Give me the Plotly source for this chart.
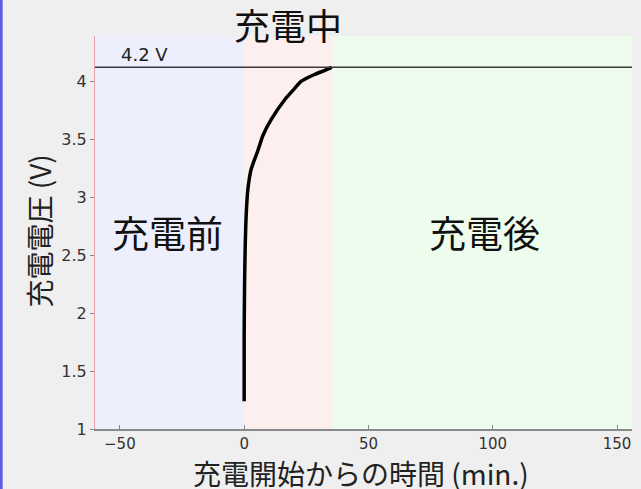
import plotly.graph_objects as go

# Data
time_min = [0, 0, 0.1, 0.2, 0.4, 0.8, 1.5, 2.8, 5.5, 7.5, 10.9, 16.3, 20, 23, 28.5, 32, 35.2]
voltage_v = [1.24, 1.8, 2.1, 2.3, 2.55, 2.84, 3.07, 3.24, 3.40, 3.53, 3.67, 3.84, 3.93, 4.0, 4.06, 4.09, 4.12]

limit_voltage = 4.12
limit_label = "4.2 V"
phase_names = ["充電前", "充電中", "充電後"]
phase_bounds = [-60, 0, 35.6, 156]
phase_colors = ["#edeffd", "#fdefed", "#eefcee"]

x_ticks = [-50, 0, 50, 100, 150]
y_ticks = [1, 1.5, 2, 2.5, 3, 3.5, 4]
y_tick_text = ["1", "1.5", "2", "2.5", "3", "3.5", "4"]

x_title = "充電開始からの時間 (min.)"
y_title = "充電電圧 (V)"

FONT = "Noto Sans CJK JP"
NUMFONT = "DejaVu Sans"

fig = go.Figure()

fig.add_trace(go.Scatter(
    x=time_min, y=voltage_v, mode="lines",
    line=dict(color="black", width=3.5, shape="spline", smoothing=0.6),
    showlegend=False, hoverinfo="skip",
))

shapes = []
for i in range(3):
    shapes.append(dict(type="rect", xref="x", yref="paper",
                       x0=phase_bounds[i], x1=phase_bounds[i + 1], y0=0, y1=1,
                       fillcolor=phase_colors[i], line=dict(width=0), layer="below"))
shapes.append(dict(type="line", xref="paper", yref="y", x0=0, x1=1,
                   y0=limit_voltage, y1=limit_voltage,
                   line=dict(color="#3a3a3a", width=1.6)))
# left blue page border
shapes.append(dict(type="rect", xref="paper", yref="paper",
                   x0=-0.18, x1=-0.172, y0=-0.2, y1=1.2,
                   fillcolor="#5a5ae6", line=dict(width=0)))

annotations = [
    dict(text=phase_names[1], xref="x", yref="paper",
         x=(phase_bounds[1] + phase_bounds[2]) / 2, y=1.03, yanchor="middle",
         showarrow=False, font=dict(family=FONT, size=36, color="#111")),
    dict(text=phase_names[0], xref="x", yref="y",
         x=-30.8, y=2.70, showarrow=False,
         font=dict(family=FONT, size=37, color="#111")),
    dict(text=phase_names[2], xref="x", yref="y",
         x=96.8, y=2.70, showarrow=False,
         font=dict(family=FONT, size=37, color="#111")),
    dict(text=limit_label, xref="x", yref="y",
         x=-50.5, y=limit_voltage, xanchor="left", yanchor="bottom", yshift=0,
         showarrow=False, font=dict(family=NUMFONT, size=18, color="#222")),
    dict(text=x_title, xref="paper", yref="paper", x=0.496, y=-0.112,
         xanchor="center", yanchor="middle", showarrow=False,
         font=dict(family=FONT, size=28, color="#222")),
    dict(text=y_title, xref="paper", yref="paper", x=-0.105, y=0.504,
         xanchor="center", yanchor="middle", textangle=-90, showarrow=False,
         font=dict(family=FONT, size=28, color="#222")),
]

fig.update_layout(
    width=641, height=489,
    margin=dict(l=95, r=9, t=36, b=60),
    paper_bgcolor="#efefef", plot_bgcolor="#efefef",
    shapes=shapes, annotations=annotations,
    font=dict(family=NUMFONT, color="#333"),
    xaxis=dict(range=[-60, 156], tickvals=x_ticks, ticks="inside", ticklen=4,
               tickcolor="#888", showgrid=False, zeroline=False,
               showline=True, linecolor="#8a8a8a", linewidth=2,
               tickfont=dict(family=NUMFONT, size=15, color="#333")),
    yaxis=dict(range=[1, 4.39], tickvals=y_ticks, ticktext=y_tick_text,
               ticks="outside", ticklen=4, tickcolor="#888",
               showgrid=False, zeroline=False,
               showline=True, linecolor="#e8a4ac", linewidth=1,
               tickfont=dict(family=NUMFONT, size=16, color="#333")),
)

fig.write_html("out.html", config={"displayModeBar": False},
               post_script="document.body.style.margin='0';")
